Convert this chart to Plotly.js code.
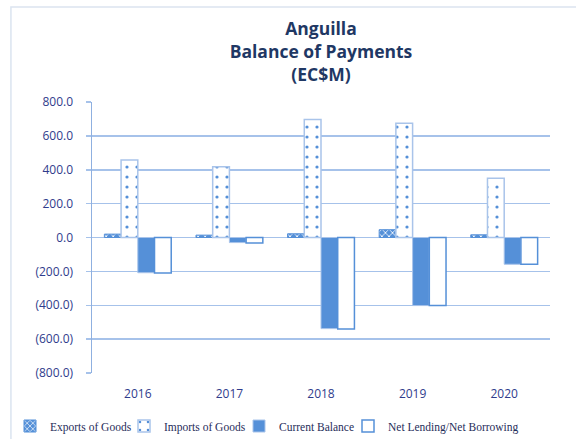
<!DOCTYPE html>
<html>
<head>
<meta charset="utf-8">
<script src="https://cdn.plot.ly/plotly-3.0.1.min.js"></script>
<style>html,body{margin:0;padding:0;background:#fff;}#chart{width:576px;height:439px;}</style>
</head>
<body>
<div id="chart"></div>
<script>
const years = ["2016", "2017", "2018", "2019", "2020"];
const exportsOfGoods = [20, 14, 22, 46, 16];
const importsOfGoods = [458, 418, 697, 675, 350];
const currentBalance = [-208, -30, -538, -402, -158];
const netLending = [-210, -32, -540, -402, -158];
const tickValues = [800, 600, 400, 200, 0, -200, -400, -600, -800];
const tickLabels = ["800.0", "600.0", "400.0", "200.0", "0.0", "(200.0)", "(400.0)", "(600.0)", "(800.0)"];

const blue = "#5590d8";
const light = "#a9c4ea";
const gridC = "#a6c2ea";
const navy = "#2f3c8c";

const traces = [
  {type: "bar", name: "Exports of Goods", x: years, y: exportsOfGoods, legend: "legend",
   marker: {color: blue, line: {color: blue, width: 1},
            pattern: {shape: "x", fgcolor: "#ffffff", bgcolor: blue, size: 5, solidity: 0.3}}},
  {type: "bar", name: "Imports of Goods", x: years, y: importsOfGoods, legend: "legend2",
   marker: {color: "#ffffff", line: {color: light, width: 1.5},
            pattern: {shape: ".", fgcolor: blue, bgcolor: "#ffffff", size: 10, solidity: 0.08}}},
  {type: "bar", name: "Current Balance", x: years, y: currentBalance, legend: "legend3",
   marker: {color: blue, line: {color: light, width: 1}}},
  {type: "bar", name: "Net Lending/Net Borrowing", x: years, y: netLending, legend: "legend4",
   marker: {color: "#ffffff", line: {color: blue, width: 1.5}}}
];

const legFont = {family: "Liberation Serif", size: 11.5, color: "#1f2d5a"};
function leg(px) {
  return {orientation: "h", xref: "container", yref: "container",
          x: px / 576, xanchor: "left", y: 1 - 426 / 439, yanchor: "middle",
          font: legFont, bgcolor: "rgba(0,0,0,0)", itemwidth: 30};
}

const layout = {
  width: 576, height: 439,
  margin: {l: 92, r: 26, t: 102, b: 66},
  paper_bgcolor: "#ffffff", plot_bgcolor: "#ffffff",
  barmode: "group", bargap: 0.27, bargroupgap: 0,
  showlegend: true,
  hovermode: false,
  title: {text: "Anguilla<br>Balance of Payments<br>(EC$M)",
          font: {family: "Open Sans", size: 17.5, color: "#1f3864", weight: "bold"},
          x: 0.5, xref: "paper", xanchor: "center",
          yref: "container", y: 1 - 35 / 439, yanchor: "top"},
  xaxis: {type: "category", showgrid: false, showline: false, ticks: "",
          tickfont: {family: "Open Sans", size: 12, color: navy},
          ticklabelstandoff: 12, zeroline: false},
  yaxis: {range: [-800, 800], tickvals: tickValues, ticktext: tickLabels,
          showgrid: true, gridcolor: gridC, gridwidth: 1.5,
          zeroline: true, zerolinecolor: gridC, zerolinewidth: 1.5,
          showline: true, linecolor: "#8fb0e0", linewidth: 1.5,
          ticks: "outside", ticklen: 5, tickcolor: gridC, tickwidth: 1.5,
          ticklabelstandoff: 10,
          tickfont: {family: "Open Sans", size: 12, color: navy}},
  legend: leg(10),
  legend2: leg(124),
  legend3: leg(239),
  legend4: leg(348),
  shapes: [
    {type: "rect", xref: "paper", yref: "paper", x0: -0.177, x1: 2, y0: 1.3506, y1: -2,
     line: {color: "#dbe4f0", width: 1.5}, fillcolor: "rgba(0,0,0,0)", layer: "below"}
  ]
};

Plotly.newPlot("chart", traces, layout, {displayModeBar: false, staticPlot: true});
</script>
</body>
</html>
